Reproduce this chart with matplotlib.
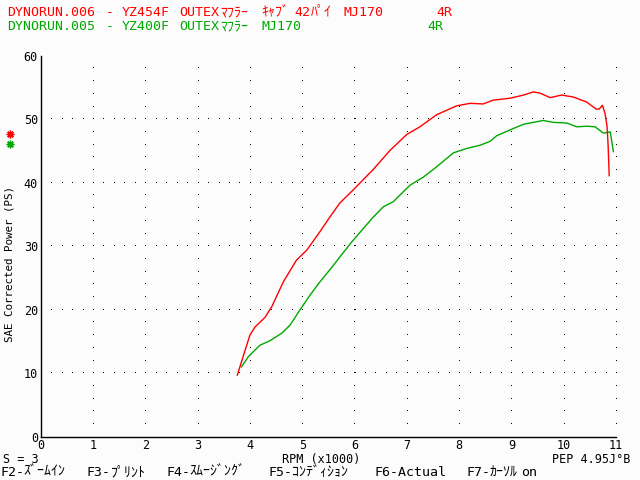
import re
import numpy as np
import matplotlib
matplotlib.use("Agg")
import matplotlib.pyplot as plt
from matplotlib.lines import Line2D

# ---- data ----
red_rpm = [3.76, 3.87, 4.00, 4.10, 4.29, 4.42, 4.64, 4.89, 5.09, 5.34, 5.53, 5.72, 5.98,
           6.36, 6.68, 7.00, 7.25, 7.57, 7.95, 8.21, 8.46, 8.65, 8.97, 9.23, 9.42, 9.55,
           9.74, 9.96, 10.18, 10.44, 10.62, 10.68, 10.74, 10.79, 10.83, 10.85, 10.87]
red_ps = [9.7, 12.6, 16.0, 17.3, 18.8, 20.5, 24.4, 27.8, 29.4, 32.3, 34.6, 36.8, 38.9,
          42.1, 45.1, 47.6, 48.8, 50.7, 52.1, 52.5, 52.4, 53.0, 53.3, 53.8, 54.3, 54.1,
          53.4, 53.8, 53.5, 52.7, 51.6, 51.6, 52.2, 50.9, 48.8, 45.7, 41.1]

green_rpm = [3.84, 3.97, 4.19, 4.38, 4.61, 4.77, 4.96, 5.15, 5.34, 5.53, 5.72, 5.95, 6.17,
             6.36, 6.55, 6.74, 7.06, 7.32, 7.57, 7.89, 8.15, 8.40, 8.59, 8.72, 8.97, 9.23,
             9.42, 9.61, 9.80, 10.06, 10.25, 10.44, 10.60, 10.76, 10.89, 10.92, 10.95]
green_ps = [11.0, 12.6, 14.4, 15.1, 16.3, 17.6, 20.0, 22.3, 24.4, 26.3, 28.3, 30.7, 32.8,
            34.6, 36.2, 37.0, 39.6, 40.9, 42.5, 44.7, 45.4, 45.9, 46.5, 47.4, 48.3, 49.2,
            49.5, 49.8, 49.5, 49.4, 48.8, 48.9, 48.8, 47.8, 48.0, 46.5, 44.9]

x_ticks = [0, 1, 2, 3, 4, 5, 6, 7, 8, 9, 10, 11]
y_ticks = [0, 10, 20, 30, 40, 50, 60]

title_red = "DYNORUN.006 - YZ454F OUTEXﾏﾌﾗｰ ｷｬﾌﾞ42ﾊﾟｲ MJ170"
title_green = "DYNORUN.005 - YZ400F OUTEXﾏﾌﾗｰ MJ170"
gear_label = "4R"
x_label = "RPM (x1000)"
y_label = "SAE Corrected Power (PS)"
smooth_text = "S = 3"
pep_text = "PEP 4.95J°B"
menu_items = ["F2-ｽﾞｰﾑｲﾝ", "F3-ﾌﾟﾘﾝﾄ", "F4-ｽﾑｰｼﾞﾝｸﾞ", "F5-ｺﾝﾃﾞｨｼｮﾝ", "F6-Actual", "F7-ｶｰｿﾙon"]

RED = "#ff0000"
GREEN = "#00a800"
BG = "#fcfcfc"
MONO = ["DejaVu Sans Mono", "Noto Sans CJK JP"]
KANA = ["Noto Sans CJK JP", "DejaVu Sans Mono"]

W, H = 640, 480

fig = plt.figure(figsize=(6.4, 4.8), dpi=100, facecolor=BG)


def fx(px):
    return px / W


def fy(py):
    return 1 - py / H


def grid_text(s, x0, base, color="black", pitch=8.2, size=9.5, ksize=10.0):
    """Write a string on a fixed character grid, run by run (baseline aligned)."""
    for m in re.finditer(r"[\uff61-\uff9f]+|[^\s\uff61-\uff9f]+", s):
        run = m.group(0)
        is_kana = "\uff61" <= run[0] <= "\uff9f"
        fig.text(fx(x0 + pitch * m.start()), fy(base), run, color=color,
                 family=KANA if is_kana else MONO,
                 fontsize=ksize if is_kana else size, va="baseline", ha="left")


ax = fig.add_axes([fx(40.7), fy(436.7), fx(616) - fx(40.7), fy(55.7) - fy(436.7)])
ax.set_facecolor(BG)
ax.set_xlim(0, 11)
ax.set_ylim(0, 60)
for s in ("top", "right"):
    ax.spines[s].set_visible(False)
for s in ("left", "bottom"):
    ax.spines[s].set_linewidth(1.0)
    ax.spines[s].set_color("black")

ax.set_xticks(x_ticks)
ax.set_yticks(y_ticks)
ax.tick_params(length=0, labelsize=8.5, pad=2.0)
for lab in ax.get_xticklabels() + ax.get_yticklabels():
    lab.set_family(MONO)

# dotted grid: columns at each integer rpm (every 2 PS), rows at each 10 PS (every 0.2 rpm)
col_x, col_y = np.meshgrid(np.array(x_ticks[1:]), np.arange(2, 61, 2))
row_x, row_y = np.meshgrid(np.arange(0.2, 11.01, 0.2), np.array(y_ticks[1:]))
ax.plot(col_x.ravel(), col_y.ravel(), linestyle="none", marker=",", color="black", zorder=1)
ax.plot(row_x.ravel(), row_y.ravel(), linestyle="none", marker=",", color="black", zorder=1)

ax.plot(green_rpm, green_ps, color=GREEN, lw=1.0, zorder=3)
ax.plot(red_rpm, red_ps, color=RED, lw=1.0, zorder=3)

# titles
grid_text(title_red, 7, 16, color=RED)
fig.text(fx(452), fy(16), gear_label, color=RED, family=MONO, fontsize=9.5, va="baseline", ha="right")
grid_text(title_green, 7, 30, color=GREEN)
fig.text(fx(443), fy(30), gear_label, color=GREEN, family=MONO, fontsize=9.5, va="baseline", ha="right")

# y-axis label and markers
fig.text(fx(10), fy(264), y_label, rotation=90, family=MONO, fontsize=7.8, va="center", ha="center")
fig.add_artist(Line2D([fx(10)], [fy(134)], marker=(8, 2, 0), markersize=5.5, mew=1.0,
                      color=RED, transform=fig.transFigure))
fig.add_artist(Line2D([fx(10)], [fy(144)], marker=(8, 2, 0), markersize=5.5, mew=1.0,
                      color=GREEN, transform=fig.transFigure))

# bottom texts
fig.text(fx(3), fy(463), smooth_text, family=MONO, fontsize=8.5, va="baseline", ha="left")
fig.text(fx(321.5), fy(463), x_label, family=MONO, fontsize=8.5, va="baseline", ha="center")
fig.text(fx(552), fy(463), pep_text, family=MONO, fontsize=8.5, va="baseline", ha="left")
menu_x = [0, 87, 166, 268, 374, 466]
for item, mx in zip(menu_items, menu_x):
    grid_text(item, mx, 476, pitch=7.9)

fig.savefig("out.png", dpi=100, facecolor=BG)
